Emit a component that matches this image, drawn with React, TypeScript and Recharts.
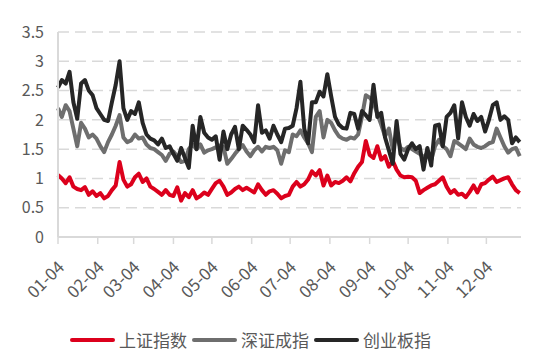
import { LineChart, Line, XAxis, YAxis, CartesianGrid } from 'recharts';

// trading day offset from 01-04 (every 3rd day)
const days = [
  0, 3, 6, 9, 12, 15, 18, 21, 24, 27,
  30, 33, 36, 39, 42, 45, 48, 51, 54, 57,
  60, 63, 66, 69, 72, 75, 78, 81, 84, 87,
  90, 93, 96, 99, 102, 105, 108, 111, 114, 117,
  120, 123, 126, 129, 132, 135, 138, 141, 144, 147,
  150, 153, 156, 159, 162, 165, 168, 171, 174, 177,
  180, 183, 186, 189, 192, 195, 198, 201, 204, 207,
  210, 213, 216, 219, 222, 225, 228, 231, 234, 237,
  240, 243, 246, 249, 252, 255, 258, 261, 264, 267,
  270, 273, 276, 279, 282, 285, 288, 291, 294, 297,
  300, 303, 306, 309, 312, 315, 318, 321, 324, 327,
  330, 333, 336, 339, 342, 345, 348, 351, 354, 357,
  360,
];

const shanghai = [
  1.06, 1.0, 0.92, 1.02, 0.86, 0.82, 0.8, 0.85, 0.72, 0.78,
  0.7, 0.75, 0.66, 0.7, 0.8, 0.88, 1.28, 0.98, 0.86, 0.9,
  1.02, 1.08, 0.94, 1.0, 0.86, 0.82, 0.77, 0.72, 0.8, 0.72,
  0.7, 0.85, 0.62, 0.75, 0.68, 0.8, 0.66, 0.7, 0.76, 0.72,
  0.82, 0.92, 0.96, 0.86, 0.72, 0.76, 0.82, 0.86, 0.8, 0.84,
  0.8, 0.76, 0.9, 0.8, 0.72, 0.78, 0.8, 0.74, 0.66, 0.7,
  0.72, 0.86, 0.94, 0.86, 0.9, 0.98, 1.12, 1.05, 1.14, 0.88,
  1.05, 0.88, 0.94, 0.92, 0.96, 1.02, 0.95, 1.09, 1.2, 1.28,
  1.64, 1.4, 1.35, 1.55, 1.32, 1.38, 1.2, 1.3, 1.15, 1.05,
  1.02, 1.03, 1.02, 0.96, 0.75, 0.8, 0.84, 0.88, 0.9, 0.96,
  1.02, 0.86, 0.75, 0.8, 0.72, 0.74, 0.68, 0.77, 0.88, 0.76,
  0.9, 0.92, 0.98, 1.03, 0.94, 0.97, 1.0, 1.02, 0.9, 0.8,
  0.75,
];

const shenzhen = [
  2.2, 2.05, 2.25, 2.15, 1.85, 1.55, 1.95, 1.85, 1.7, 1.75,
  1.68, 1.55, 1.45, 1.62, 1.75, 1.9, 2.08, 1.7, 1.62, 1.65,
  1.75, 1.68, 1.7, 1.58, 1.52, 1.5, 1.45, 1.4, 1.3, 1.42,
  1.46, 1.38, 1.28, 1.3, 1.5, 1.58, 1.5, 1.58, 1.44, 1.48,
  1.5, 1.53, 1.56, 1.54, 1.25, 1.33, 1.42, 1.5, 1.57, 1.46,
  1.38, 1.48, 1.54, 1.46, 1.54, 1.52, 1.54, 1.48, 1.25, 1.48,
  1.45, 1.75, 1.72, 1.82, 1.7, 1.6, 1.45, 2.05, 2.15, 1.7,
  2.0, 1.95, 1.82, 1.72, 1.68, 1.66, 1.7, 1.68, 1.75, 2.05,
  2.42, 2.38, 2.3, 2.1, 1.92, 1.72, 1.85, 1.5, 1.75, 1.52,
  1.48, 1.54, 1.5, 1.46, 1.42, 1.36, 1.43, 1.32, 1.55, 1.66,
  1.55, 1.5, 1.38, 1.64, 1.6, 1.55, 1.5, 1.68, 1.58, 1.54,
  1.52, 1.55, 1.6, 1.62, 1.85, 1.7, 1.55, 1.44, 1.5, 1.52,
  1.38,
];

const chinext = [
  2.55, 2.68, 2.62, 2.82, 2.3, 2.02, 2.62, 2.68, 2.5, 2.42,
  2.2, 2.1, 2.0, 1.98, 2.3, 2.6, 3.0, 2.2, 2.0, 2.15,
  2.1, 2.3, 1.95, 1.75, 1.68, 1.65, 1.58, 1.68, 1.52, 1.55,
  1.42, 1.3, 1.52, 1.35, 1.18, 1.9, 1.5, 2.05, 1.78, 1.7,
  1.66, 1.72, 1.32, 1.8, 1.5, 1.75, 1.88, 1.5, 1.9, 1.83,
  1.75, 1.62, 2.25, 1.78, 1.82, 1.68, 1.9, 1.75, 1.62, 1.85,
  1.86, 1.9, 2.2, 2.65, 1.85, 1.6, 2.3, 2.3, 2.48, 2.4,
  2.78, 2.4, 2.05, 1.92, 1.86, 1.85, 2.12, 2.1, 1.85, 2.15,
  2.08, 2.0, 2.6, 2.05, 2.12, 1.7, 1.48, 1.25, 1.98, 1.42,
  1.32, 1.5, 1.6, 1.5, 1.55, 1.15, 1.52, 1.22, 1.9, 1.92,
  1.55, 2.05, 2.12, 2.25, 1.68, 2.3, 2.05, 1.9, 2.1, 1.98,
  2.05, 1.8, 2.0, 2.25, 2.3, 2.0, 2.06, 2.0, 1.6, 1.7,
  1.62,
];

const monthTicks = [0, 31, 59, 90, 120, 151, 181, 212, 243, 273, 304, 334];
const monthLabels = ['01-04', '02-04', '03-04', '04-04', '05-04', '06-04', '07-04', '08-04', '09-04', '10-04', '11-04', '12-04'];
const yTicks = [0, 0.5, 1, 1.5, 2, 2.5, 3, 3.5];

const series = [
  { key: 'sh', name: '上证指数', color: '#dc001c' },
  { key: 'sz', name: '深证成指', color: '#6e6e6e' },
  { key: 'cy', name: '创业板指', color: '#262626' },
];

const data = days.map((d, i) => ({ day: d, sh: shanghai[i], sz: shenzhen[i], cy: chinext[i] }));

const font = "'Noto Sans CJK SC', 'Noto Sans', sans-serif";

// rotated month label, right end sits just below the tick
const MonthTick = (props: any) => {
  const { x, y, payload } = props;
  return (
    <g transform={`translate(${x + 2},${y + 17})`}>
      <text x={0} y={0} textAnchor="end" dominantBaseline="central" transform="rotate(-45)" fill="#595959" fontSize={17} fontFamily={font}>
        {monthLabels[monthTicks.indexOf(payload.value)]}
      </text>
    </g>
  );
};

export default function App() {
  return (
    <div style={{ position: 'absolute', left: 0, top: 0, width: 553, height: 361, background: '#fff', fontFamily: font }}>
      <LineChart width={553} height={361} data={data} margin={{ top: 32, right: 32, left: 18, bottom: 64 }}>
        <CartesianGrid vertical={false} stroke="#d9d9d9" strokeWidth={1.5} strokeDasharray="11 6" />
        <XAxis
          dataKey="day"
          type="number"
          domain={[0, 361]}
          ticks={monthTicks}
          interval={0}
          height={60}
          axisLine={{ stroke: '#d9d9d9', strokeWidth: 2 }}
          tickLine={{ stroke: '#d9d9d9', strokeWidth: 1.5 }}
          tickSize={7}
          tick={<MonthTick />}
        />
        <YAxis
          domain={[0, 3.5]}
          ticks={yTicks}
          width={40}
          axisLine={{ stroke: '#d9d9d9', strokeWidth: 2 }}
          tickLine={false}
          tickMargin={8}
          tick={{ fill: '#595959', fontSize: 16, fontFamily: font }}
        />
        {series.map((s) => (
          <Line
            key={s.key}
            type="linear"
            dataKey={s.key}
            name={s.name}
            stroke={s.color}
            strokeWidth={4}
            strokeLinejoin="round"
            dot={false}
            isAnimationActive={false}
          />
        ))}
      </LineChart>
      <div style={{ position: 'absolute', left: 70, top: 328, display: 'flex', alignItems: 'center', fontSize: 17, color: '#595959', lineHeight: '24px' }}>
        {series.map((s) => (
          <div key={s.key} style={{ display: 'flex', alignItems: 'center', marginRight: 5 }}>
            <span style={{ display: 'inline-block', width: 45, height: 4, borderRadius: 2, background: s.color, marginRight: 4 }} />
            <span>{s.name}</span>
          </div>
        ))}
      </div>
    </div>
  );
}
